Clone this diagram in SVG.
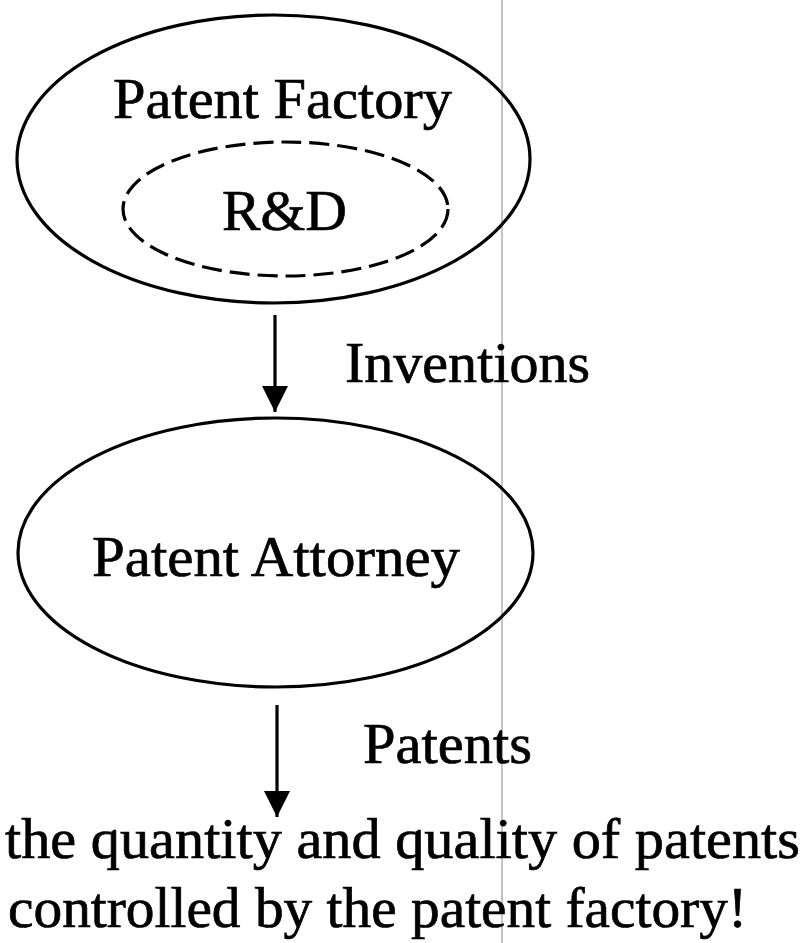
<svg xmlns="http://www.w3.org/2000/svg" width="810" height="943" viewBox="0 0 810 943">
  <style>
    .t { font-family: "Liberation Serif", "Times New Roman", serif; font-size: 58px; fill: #000; stroke: #000; stroke-width: 0.7; }
    .node { fill: none; stroke: #000; stroke-width: 3.2; }
    .dash { fill: none; stroke: #000; stroke-width: 3.2; stroke-dasharray: 20 8; }
    .edge { stroke: #000; stroke-width: 3.2; fill: none; }
  </style>
  <defs>
    <marker id="arrow" markerUnits="userSpaceOnUse" markerWidth="28" markerHeight="28" refX="26" refY="13" orient="auto">
      <path d="M0,0 L26,13 L0,26 Z" fill="#000"/>
    </marker>
  </defs>
  <rect x="0" y="0" width="810" height="943" fill="#fff"/>
  <line x1="502" y1="0" x2="502" y2="943" stroke="#8a8a8a" stroke-width="1"/>

  <g id="patent-factory">
    <ellipse class="node" cx="273.5" cy="159" rx="256.5" ry="144"/>
    <text class="t" x="113" y="118" textLength="339" lengthAdjust="spacingAndGlyphs">Patent Factory</text>
  </g>
  <g id="rnd">
    <ellipse class="dash" cx="285.5" cy="209" rx="162.5" ry="67"/>
    <text class="t" x="222" y="230" textLength="125" lengthAdjust="spacingAndGlyphs">R&amp;D</text>
  </g>
  <g id="patent-attorney">
    <ellipse class="node" cx="275.5" cy="552.5" rx="257.5" ry="134.5"/>
    <text class="t" x="92" y="576" textLength="368" lengthAdjust="spacingAndGlyphs">Patent Attorney</text>
  </g>
  <g id="result">
    <text class="t" x="5" y="858" textLength="795" lengthAdjust="spacingAndGlyphs">the quantity and quality of patents</text>
    <text class="t" x="8" y="927" textLength="739" lengthAdjust="spacingAndGlyphs">controlled by the patent factory!</text>
  </g>

  <g id="connectors">
    <line class="edge" x1="275" y1="315" x2="275" y2="412" marker-end="url(#arrow)"/>
    <text class="t" x="345" y="382" textLength="245" lengthAdjust="spacingAndGlyphs">Inventions</text>
    <line class="edge" x1="277" y1="705" x2="277" y2="817" marker-end="url(#arrow)"/>
    <text class="t" x="363" y="763" textLength="169" lengthAdjust="spacingAndGlyphs">Patents</text>
  </g>
</svg>
